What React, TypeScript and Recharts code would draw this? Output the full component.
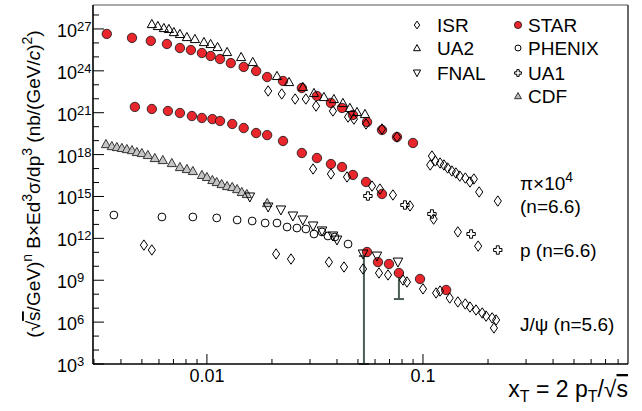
import { ScatterChart, Scatter, XAxis, YAxis, ReferenceLine, Legend, ErrorBar } from "recharts";

const FONT = '"Liberation Sans", Arial, Helvetica, sans-serif';
const RED = "#e8262b";

const X_MIN = 0.00297;
const X_MAX = 0.889;
const Y_MIN = 1e3;
const Y_MAX = 5.2e28;

// x_T ticks (labels only on decades)
const xTicks = [
  0.003, 0.004, 0.005, 0.006, 0.007, 0.008, 0.009, 0.01,
  0.02, 0.03, 0.04, 0.05, 0.06, 0.07, 0.08, 0.09, 0.1,
  0.2, 0.3, 0.4, 0.5, 0.6, 0.7, 0.8,
];
const xLabels = [0.01, 0.1];
const yTicks = [
  1e3, 1e4, 1e5, 1e6, 1e7, 1e8, 1e9, 1e10, 1e11, 1e12, 1e13, 1e14, 1e15,
  1e16, 1e17, 1e18, 1e19, 1e20, 1e21, 1e22, 1e23, 1e24, 1e25, 1e26, 1e27, 1e28,
];

// [x_T, scaled cross section]
const starPi: [number, number][] = [
  [0.00344, 4.4e26], [0.0045, 2.3e26], [0.0055, 1.4e26], [0.00653, 8.4e25], [0.0075, 4.3e25],
  [0.00843, 3.1e25], [0.00948, 1.9e25], [0.0104, 1.16e25], [0.0115, 7.0e24], [0.0129, 3.6e24],
  [0.0148, 1.9e24], [0.0169, 9.7e23], [0.019, 3.6e23], [0.0225, 1.87e23], [0.0275, 5.9e22],
  [0.0323, 1.58e22], [0.0375, 5.0e21], [0.0422, 2.2e21], [0.0474, 6.9e20], [0.0551, 2.16e20],
  [0.0646, 5.8e19], [0.0758, 1.82e19], [0.0899, 6.8e18],
];
const starP: [number, number][] = [
  [0.00464, 2.6e21], [0.00556, 1.85e21], [0.0066, 1.33e21], [0.0075, 9.5e20], [0.00852, 5.8e20],
  [0.00948, 4.2e20], [0.0106, 3.5e20], [0.0115, 2.55e20], [0.0131, 1.56e20], [0.0148, 8.0e19],
  [0.0169, 3.5e19], [0.019, 2.5e19], [0.0225, 9.4e18], [0.0275, 1.3e18], [0.0323, 5.7e17],
  [0.0375, 2.1e17], [0.0422, 1.29e17], [0.0474, 3.5e16], [0.0545, 1.09e16], [0.0646, 1.51e15],
];
const starJpsi: [number, number][] = [
  [0.0551, 1.05e11], [0.0619, 2.0e10], [0.0696, 1.46e10], [0.0774, 3.3e9], [0.0969, 1.23e9],
  [0.128, 2.0e8],
];
const ua2: [number, number][] = [
  [0.00556, 2.26e27], [0.00593, 1.63e27], [0.00632, 1.17e27], [0.00667, 1.0e27], [0.00703, 6.0e26],
  [0.0075, 4.4e26], [0.00808, 2.65e26], [0.0088, 1.91e26], [0.00969, 1.16e26], [0.0104, 8.4e25],
  [0.0112, 5.1e25], [0.0124, 2.24e25], [0.0144, 9.8e24], [0.0163, 4.3e24], [0.0211, 4.3e23],
  [0.024, 1.59e23], [0.0278, 7.0e22], [0.0313, 2.6e22], [0.0348, 1.34e22], [0.0387, 9.6e21],
  [0.0426, 5.0e21], [0.0459, 2.2e21], [0.0495, 1.13e21], [0.0539, 8.1e20],
];
const isrPi: [number, number][] = [
  [0.0192, 3.6e22], [0.0222, 2.2e22], [0.0256, 9.6e21], [0.0287, 9.6e21], [0.032, 3.0e21],
  [0.0383, 1.33e21], [0.045, 4.9e20], [0.0479, 3.5e20], [0.0545, 1.56e20], [0.0646, 6.8e19],
  [0.0758, 1.82e19], [0.108, 1.8e17], [0.11, 7.9e17], [0.114, 3.5e17], [0.12, 2.5e17],
  [0.125, 1.8e17], [0.13, 1.1e17], [0.136, 6.7e16], [0.142, 4.8e16], [0.148, 2.9e16],
  [0.157, 2.1e16], [0.165, 1.09e16], [0.172, 1.79e16], [0.182, 2.1e15], [0.222, 4.7e14],
];
const isrP: [number, number][] = [
  [0.031, 9.3e16], [0.0375, 4.1e16], [0.0445, 2.5e16], [0.0581, 5.6e15], [0.0632, 3.4e15],
  [0.0726, 1.28e15], [0.0871, 2.1e14], [0.112, 2.4e13], [0.145, 2.9e12], [0.18, 2.8e11],
];
const isrJpsi: [number, number][] = [
  [0.00511, 3.3e11], [0.00556, 1.47e11], [0.0209, 7.6e10], [0.0245, 3.3e10], [0.0367, 2.0e10],
  [0.0431, 8.9e9], [0.0528, 6.4e9], [0.0626, 3.3e9], [0.0689, 2.4e9], [0.0808, 1.04e9],
  [0.0843, 7.5e8], [0.1, 2.4e8], [0.115, 1.22e8], [0.12, 1.69e8], [0.133, 5.3e7],
  [0.145, 2.8e7], [0.157, 2.0e7], [0.165, 1.21e7], [0.176, 7.4e6], [0.188, 4.5e6],
  [0.196, 2.7e6], [0.209, 2.0e6], [0.218, 1.42e6], [0.213, 3.8e5],
];
const ua1: [number, number][] = [
  [0.0556, 1.08e15], [0.0825, 2.45e14], [0.11, 5.6e13], [0.167, 2.05e12], [0.222, 1.47e11],
];
const cdf: [number, number][] = [
  [0.00341, 5.7e18], [0.00363, 4.1e18], [0.00383, 3.5e18], [0.00404, 3.0e18], [0.00426, 2.5e18],
  [0.0045, 2.1e18], [0.00474, 1.54e18], [0.005, 1.3e18], [0.00533, 9.4e17], [0.00574, 5.7e17],
  [0.00625, 4.1e17], [0.00688, 2.5e17], [0.0075, 1.29e17], [0.00808, 9.3e16], [0.00861, 6.7e16],
  [0.00948, 3.5e16], [0.01, 2.5e16], [0.0106, 1.52e16], [0.0111, 1.09e16], [0.0117, 7.8e15],
  [0.0124, 5.6e15], [0.0131, 4.8e15], [0.0138, 3.4e15], [0.0145, 2.1e15], [0.0153, 1.51e15],
  [0.019, 3.4e14],
];
const fnal: [number, number][] = [
  [0.0158, 9.2e14], [0.0192, 1.76e14], [0.022, 1.08e14], [0.025, 4.0e13], [0.0278, 2.07e13],
  [0.031, 7.7e12], [0.0341, 3.4e12], [0.0383, 1.48e12], [0.04, 7.6e11], [0.0528, 7.6e10],
  [0.0612, 5.4e10], [0.0766, 2.0e10],
];
const phenix: [number, number][] = [
  [0.00371, 4.7e13], [0.00619, 3.4e13], [0.00861, 3.4e13], [0.0111, 2.9e13], [0.0138, 2.07e13],
  [0.0162, 1.75e13], [0.0186, 1.26e13], [0.0211, 1.26e13], [0.0235, 6.5e12], [0.0261, 5.5e12],
  [0.0287, 4.7e12], [0.0313, 2.05e12], [0.0341, 2.9e12], [0.0363, 1.48e12], [0.0391, 1.25e12],
  [0.045, 3.9e11],
];
// [x_T, upper end, lower end]
const errBars: [number, number, number][] = [
  [0.0533, 5.4e10, 1e3],
  [0.0774, 3.3e9, 4.5e7],
];

const pts = (a: [number, number][]) => a.map(([x, y]) => ({ x, y }));
const errPts = errBars.map(([x, hi, lo]) => ({ x, y: hi, err: [hi - lo, 0] }));

function StarDot({ cx, cy, r = 4.7 }: any) {
  return <circle cx={cx} cy={cy} r={r} fill={RED} stroke="#111" strokeWidth={0.8} />;
}
function OpenCircle({ cx, cy, r = 3.9 }: any) {
  return <circle cx={cx} cy={cy} r={r} fill="none" stroke="#000" strokeWidth={1} />;
}
function Diamond({ cx, cy, s = 1 }: any) {
  const w = 3.6 * s, h = 5.2 * s;
  return (
    <path d={`M${cx},${cy - h}L${cx + w},${cy}L${cx},${cy + h}L${cx - w},${cy}Z`}
      fill="none" stroke="#000" strokeWidth={1} />
  );
}
function TriUp({ cx, cy, s = 1, fill = "none" }: any) {
  const w = 4.6 * s;
  return (
    <path d={`M${cx},${cy - 4.6 * s}L${cx + w},${cy + 3.6 * s}L${cx - w},${cy + 3.6 * s}Z`}
      fill={fill} stroke={fill === "none" ? "#000" : "#333"} strokeWidth={1} />
  );
}
function TriDown({ cx, cy, s = 1 }: any) {
  const w = 4.8 * s;
  return (
    <path d={`M${cx - w},${cy - 4 * s}L${cx + w},${cy - 4 * s}L${cx},${cy + 5 * s}Z`}
      fill="none" stroke="#000" strokeWidth={1} />
  );
}
function Cross({ cx, cy, s = 1 }: any) {
  const a = 4.2 * s, b = 1.5 * s;
  const d = `M${cx - b},${cy - a}H${cx + b}V${cy - b}H${cx + a}V${cy + b}H${cx + b}V${cy + a}H${cx - b}V${cy + b}H${cx - a}V${cy - b}H${cx - b}Z`;
  return <path d={d} fill="none" stroke="#000" strokeWidth={1} />;
}

function XTick({ x, y, payload }: any) {
  const major = xLabels.includes(payload.value);
  return (
    <g>
      <line x1={x} x2={x} y1={y} y2={y - (major ? 10 : 5)} stroke="#000" strokeWidth={1} />
      {major && (
        <text x={x} y={y + 18} textAnchor="middle" fontSize={18} fontFamily={FONT} fill="#000">
          {payload.value}
        </text>
      )}
    </g>
  );
}

function YTick({ x, y, payload }: any) {
  const e = Math.round(Math.log10(payload.value));
  const major = e % 3 === 0;
  return (
    <g>
      <line x1={x} x2={x + (major ? 11 : 6)} y1={y} y2={y} stroke="#000" strokeWidth={1} />
      {major && (
        <g fontFamily={FONT} fill="#000">
          <text x={x - 16} y={y + 8} textAnchor="end" fontSize={18}>10</text>
          <text x={x - 16} y={y + 2} textAnchor="start" fontSize={13}>{e}</text>
        </g>
      )}
    </g>
  );
}

function YTitle() {
  return (
    <text x={40} y={184} transform="rotate(-90 40 184)" textAnchor="middle" fontSize={19} fontFamily={FONT} fill="#000">
      <tspan>(√</tspan>
      <tspan style={{ textDecoration: "overline" }}>s</tspan>
      <tspan>/GeV)</tspan>
      <tspan dy={-8} fontSize={14}>n</tspan>
      <tspan dy={8}> B×Ed</tspan>
      <tspan dy={-8} fontSize={14}>3</tspan>
      <tspan dy={8}>σ/dp</tspan>
      <tspan dy={-8} fontSize={14}>3</tspan>
      <tspan dy={8}> (nb/(GeV/</tspan>
      <tspan fontStyle="italic">c</tspan>
      <tspan>)</tspan>
      <tspan dy={-8} fontSize={14}>2</tspan>
      <tspan dy={8}>)</tspan>
    </text>
  );
}

function XTitle() {
  return (
    <text x={628} y={397} textAnchor="end" fontSize={23} fontFamily={FONT} fill="#000">
      <tspan>x</tspan>
      <tspan dy={5} fontSize={16}>T</tspan>
      <tspan dy={-5}> = 2 p</tspan>
      <tspan dy={5} fontSize={16}>T</tspan>
      <tspan dy={-5}>/√</tspan>
      <tspan style={{ textDecoration: "overline" }}>s</tspan>
    </text>
  );
}

const legendLeft = [
  { name: "ISR", Icon: Diamond },
  { name: "UA2", Icon: TriUp },
  { name: "FNAL", Icon: TriDown },
];
const legendRight = [
  { name: "STAR", Icon: StarDot },
  { name: "PHENIX", Icon: OpenCircle },
  { name: "UA1", Icon: Cross },
  { name: "CDF", Icon: TriUp },
];

function LegendBox() {
  const rowY = [32, 55, 80, 103];
  return (
    <svg width={230} height={110} style={{ display: "block" }} fontFamily={FONT}>
      {legendLeft.map(({ name, Icon }, i) => (
        <g key={name}>
          <Icon cx={12} cy={rowY[i] - 7} s={0.75} />
          <text x={32} y={rowY[i]} fontSize={19} fill="#000">{name}</text>
        </g>
      ))}
      {legendRight.map(({ name, Icon }, i) => (
        <g key={name}>
          {name === "STAR" ? <Icon cx={113} cy={rowY[i] - 7} r={3.6} />
            : name === "PHENIX" ? <Icon cx={113} cy={rowY[i] - 7} r={3} />
            : name === "CDF" ? <Icon cx={113} cy={rowY[i] - 7} s={0.75} fill="#bbb" />
            : <Icon cx={113} cy={rowY[i] - 7} s={0.8} />}
          <text x={123} y={rowY[i]} fontSize={19} fill="#000">{name}</text>
        </g>
      ))}
    </svg>
  );
}

export default function App() {
  return (
    <div style={{ position: "absolute", left: 0, top: 0, width: 642, height: 411, background: "#fff", fontFamily: FONT }}>
      <ScatterChart width={642} height={411} margin={{ top: 5, right: 14, bottom: 0, left: 0 }}>
        <XAxis
          dataKey="x" type="number" scale="log" domain={[X_MIN, X_MAX]} allowDataOverflow
          ticks={xTicks} interval={0} tick={<XTick />} tickLine={false} tickSize={0} tickMargin={0}
          height={47} axisLine={{ stroke: "#000", strokeWidth: 1.6 }} label={<XTitle />}
        />
        <YAxis
          dataKey="y" type="number" scale="log" domain={[Y_MIN, Y_MAX]} allowDataOverflow
          ticks={yTicks} interval={0} tick={<YTick />} tickLine={false} tickSize={0} tickMargin={0}
          width={93} axisLine={{ stroke: "#000", strokeWidth: 1.6 }} label={<YTitle />}
        />
        <ReferenceLine y={Y_MAX} stroke="#555" strokeWidth={1.2} />
        <ReferenceLine x={X_MAX} stroke="#444" strokeWidth={1.6} />

        <Scatter data={pts(starPi)} shape={(p: any) => <StarDot cx={p.cx} cy={p.cy} />} isAnimationActive={false} />
        <Scatter data={pts(starP)} shape={(p: any) => <StarDot cx={p.cx} cy={p.cy} />} isAnimationActive={false} />
        <Scatter data={pts(starJpsi)} shape={(p: any) => <StarDot cx={p.cx} cy={p.cy} />} isAnimationActive={false} />
        <Scatter data={pts(ua2)} shape={(p: any) => <TriUp cx={p.cx} cy={p.cy} />} isAnimationActive={false} />
        <Scatter data={pts(cdf)} shape={(p: any) => <TriUp cx={p.cx} cy={p.cy} fill="#c4c4c4" />} isAnimationActive={false} />
        <Scatter data={pts(fnal)} shape={(p: any) => <TriDown cx={p.cx} cy={p.cy} />} isAnimationActive={false} />
        <Scatter data={pts(phenix)} shape={(p: any) => <OpenCircle cx={p.cx} cy={p.cy} />} isAnimationActive={false} />
        <Scatter data={pts(isrPi)} shape={(p: any) => <Diamond cx={p.cx} cy={p.cy} />} isAnimationActive={false} />
        <Scatter data={pts(isrP)} shape={(p: any) => <Diamond cx={p.cx} cy={p.cy} />} isAnimationActive={false} />
        <Scatter data={pts(isrJpsi)} shape={(p: any) => <Diamond cx={p.cx} cy={p.cy} />} isAnimationActive={false} />
        <Scatter data={pts(ua1)} shape={(p: any) => <Cross cx={p.cx} cy={p.cy} />} isAnimationActive={false} />
        <Scatter data={errPts} shape={() => <g />} isAnimationActive={false}>
          <ErrorBar dataKey="err" direction="y" width={5} stroke="#4c5f55" strokeWidth={2} isAnimationActive={false} />
        </Scatter>

        <Legend
          layout="horizontal" verticalAlign="middle" align="center"
          wrapperStyle={{ left: 405, top: 0, width: 230, height: 110 }}
          content={() => <LegendBox />}
        />
      </ScatterChart>

      <svg width={642} height={411} style={{ position: "absolute", left: 0, top: 0, pointerEvents: "none" }} fontFamily={FONT} fontSize={19}>
        <text x={520} y={190} fill="#000">
          <tspan>π×10</tspan>
          <tspan dy={-8} fontSize={14}>4</tspan>
        </text>
        <text x={520} y={213} fill="#000">(n=6.6)</text>
        <text x={520} y={257} fill="#000">p (n=6.6)</text>
        <text x={520} y={331} fill="#000">J/ψ (n=5.6)</text>
      </svg>
    </div>
  );
}
